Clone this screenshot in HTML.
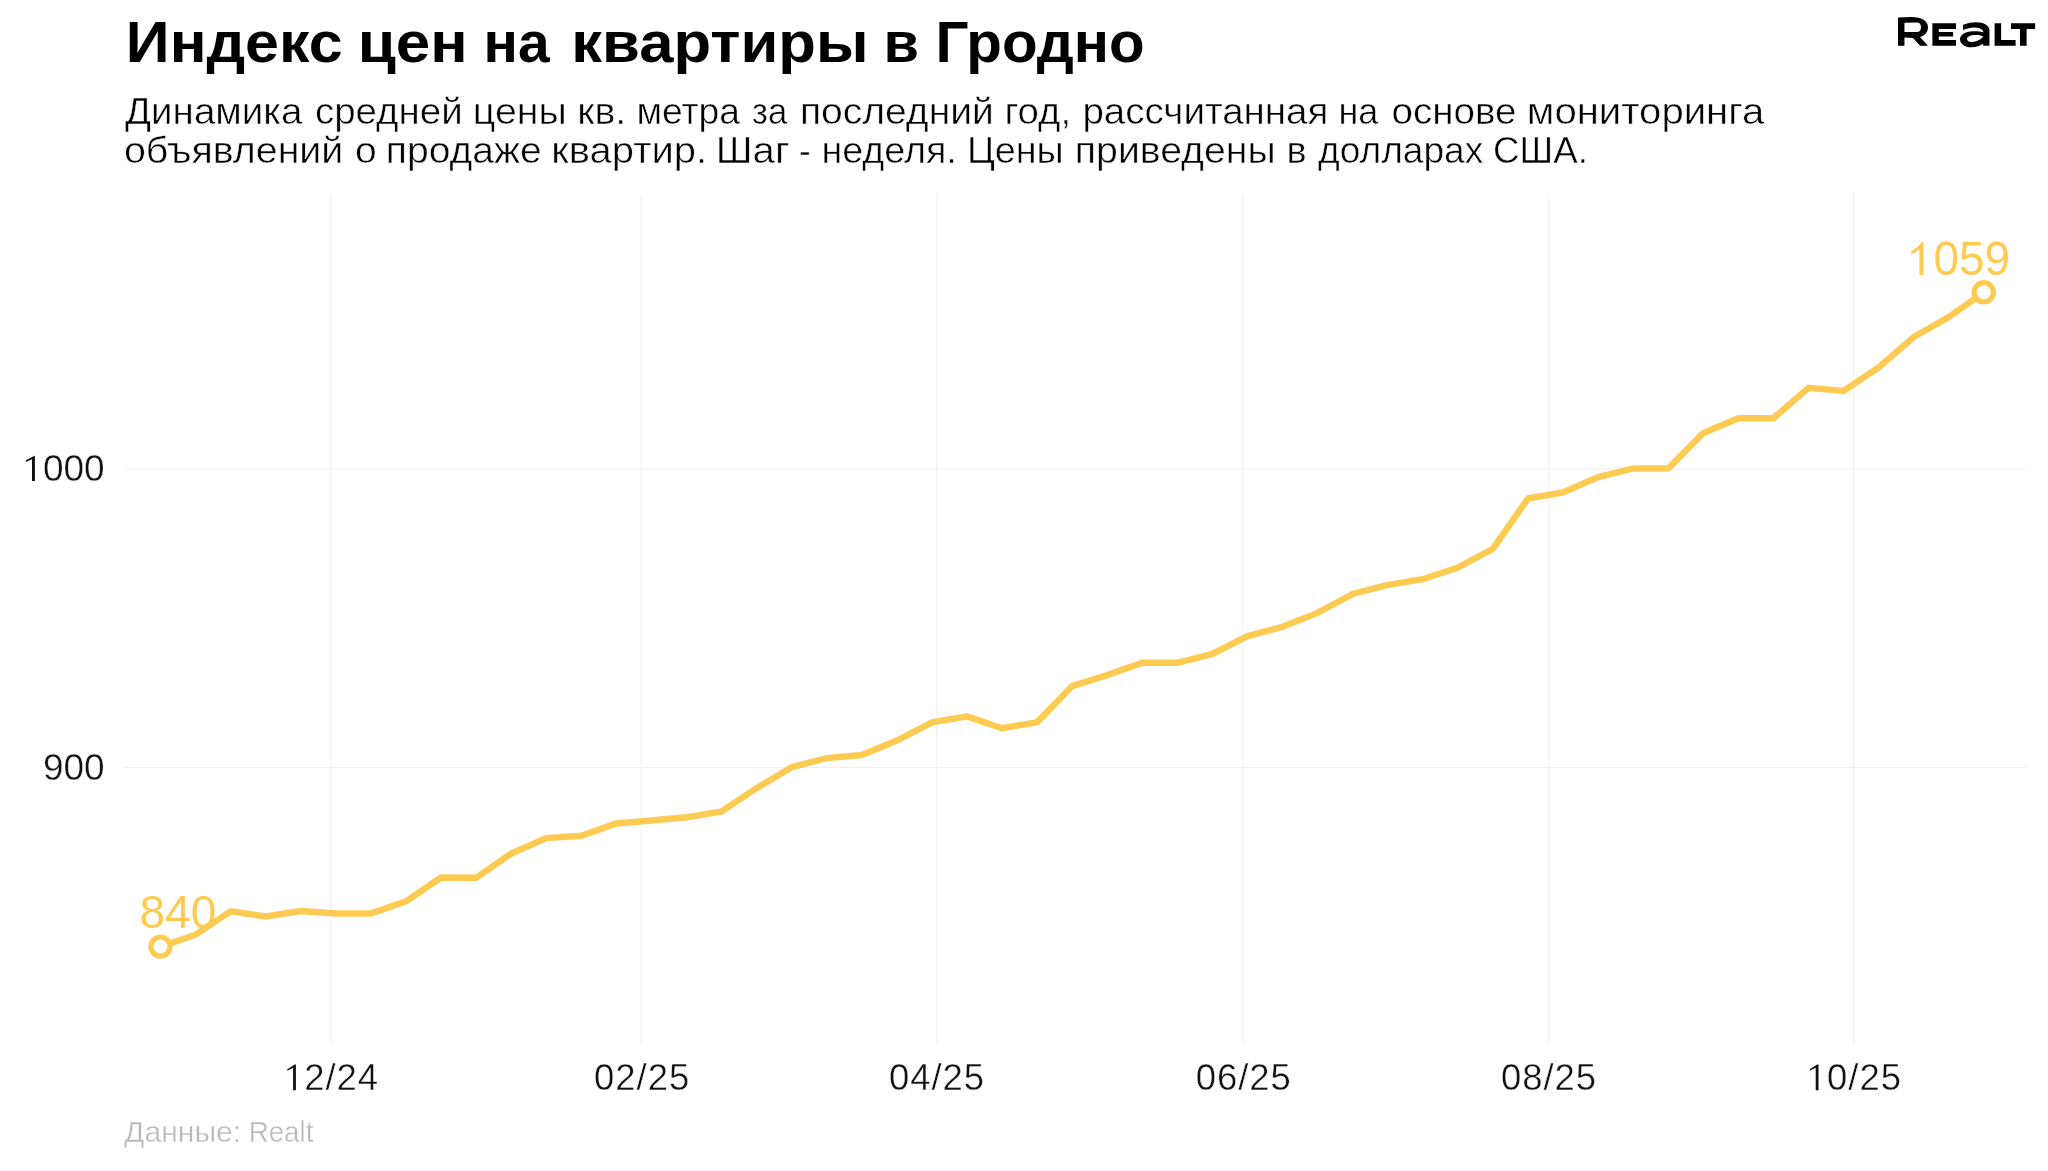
<!DOCTYPE html>
<html><head><meta charset="utf-8"><style>
html,body{margin:0;padding:0;background:#fff;width:2048px;height:1171px;overflow:hidden}
svg{position:absolute;left:0;top:0;display:block;will-change:transform}
text{font-family:"Liberation Sans",sans-serif}
</style></head><body>
<svg width="2048" height="1171" viewBox="0 0 2048 1171">
<rect width="2048" height="1171" fill="#fff"/>
<g stroke="#f0f0f0" stroke-width="1" fill="none"><line x1="331.0" y1="193.8" x2="331.0" y2="1044.7"/><line x1="641.0" y1="193.8" x2="641.0" y2="1044.7"/><line x1="936.8" y1="193.8" x2="936.8" y2="1044.7"/><line x1="1243.0" y1="193.8" x2="1243.0" y2="1044.7"/><line x1="1548.3" y1="193.8" x2="1548.3" y2="1044.7"/><line x1="1853.4" y1="193.8" x2="1853.4" y2="1044.7"/><line x1="124" y1="469" x2="2025.6" y2="469"/><line x1="124" y1="767.5" x2="2025.6" y2="767.5"/></g>
<g font-size="58" font-weight="bold" fill="#000"><text transform="matrix(1.0505,0,0,1,125.86,62)">Индекс</text><text transform="matrix(1.0675,0,0,1,357.73,62)">цен</text><text transform="matrix(0.9813,0,0,1,483.58,62)">на</text><text transform="matrix(1.0622,0,0,1,571.29,62)">квартиры</text><text transform="matrix(0.9937,0,0,1,883.52,62)">в</text><text transform="matrix(1.006,0,0,1,935.47,62)">Гродно</text></g><g font-size="36.5" fill="#000" stroke="#fff" stroke-width="0.5"><text transform="matrix(1.0556,0,0,1,125.02,124.3)">Динамика</text><text transform="matrix(1.0541,0,0,1,314.91,124.3)">средней</text><text transform="matrix(1.0771,0,0,1,472.85,124.3)">цены</text><text transform="matrix(1.0763,0,0,1,577.31,124.3)">кв.</text><text transform="matrix(1.02,0,0,1,636.46,124.3)">метра</text><text transform="matrix(0.9502,0,0,1,752.05,124.3)">за</text><text transform="matrix(1.0698,0,0,1,799.88,124.3)">последний</text><text transform="matrix(1.051,0,0,1,1004.39,124.3)">год,</text><text transform="matrix(1.0559,0,0,1,1082.40,124.3)">рассчитанная</text><text transform="matrix(0.9853,0,0,1,1338.52,124.3)">на</text><text transform="matrix(1.0569,0,0,1,1391.45,124.3)">основе</text><text transform="matrix(1.0986,0,0,1,1526.82,124.3)">мониторинга</text><text transform="matrix(1.0776,0,0,1,123.93,162.7)">объявлений</text><text transform="matrix(1.0679,0,0,1,354.88,162.7)">о</text><text transform="matrix(1.069,0,0,1,385.82,162.7)">продаже</text><text transform="matrix(1.0949,0,0,1,551.30,162.7)">квартир.</text><text transform="matrix(1.1001,0,0,1,715.79,162.7)">Шаг</text><text transform="matrix(0.9638,0,0,1,799.10,162.7)">-</text><text transform="matrix(1.0315,0,0,1,821.44,162.7)">неделя.</text><text transform="matrix(1.0337,0,0,1,966.91,162.7)">Цены</text><text transform="matrix(1.0744,0,0,1,1074.85,162.7)">приведены</text><text transform="matrix(1.0388,0,0,1,1286.39,162.7)">в</text><text transform="matrix(1.0172,0,0,1,1318.01,162.7)">долларах</text><text transform="matrix(1.0068,0,0,1,1492.98,162.7)">США.</text></g>
<g font-size="37" fill="#111" stroke="#fff" stroke-width="0.4" lengthAdjust="spacingAndGlyphs">
<text x="104.5" y="481" text-anchor="end" textLength="61.6">000</text>
<text x="104.5" y="780" text-anchor="end" textLength="61.6">900</text>
</g>
<g font-size="36.5" fill="#111" stroke="#fff" stroke-width="0.4" lengthAdjust="spacingAndGlyphs"><text x="304.3" y="1090.2" text-anchor="start" textLength="73.8">2/24</text><text x="641.7" y="1090.2" text-anchor="middle" textLength="95.3">02/25</text><text x="936.5" y="1090.2" text-anchor="middle" textLength="95">04/25</text><text x="1243.3" y="1090.2" text-anchor="middle" textLength="95">06/25</text><text x="1548.6" y="1090.2" text-anchor="middle" textLength="95">08/25</text><text x="1827" y="1090.2" text-anchor="start" textLength="74">0/25</text></g>
<g fill="#111"><path d="M34.90,455.80 V481.00 H32.00 V459.20 L25.90,462.10 V460.20 L34.40,455.80 Z"/><path d="M295.90,1064.50 V1090.20 H293.10 V1067.80 L287.30,1070.70 V1069.20 L294.60,1064.50 Z"/><path d="M1818.50,1064.50 V1090.20 H1815.70 V1067.80 L1809.80,1070.70 V1069.20 L1817.20,1064.50 Z"/></g>
<g font-size="29.5" fill="#b8b8b8" stroke="#fff" stroke-width="0.4"><text transform="matrix(1.0214,0,0,1,124.00,1141.8)">Данные:</text><text transform="matrix(0.9403,0,0,1,248.63,1141.8)">Realt</text></g>
<polyline points="160.5,946.6 195.6,934.7 230.6,911.3 265.7,916.4 300.8,911.0 335.8,913.5 370.9,913.5 405.9,901.3 441.0,877.5 476.1,877.8 511.1,853.6 546.2,838.1 581.3,835.8 616.3,823.5 651.4,820.5 686.5,817.3 721.5,811.4 756.6,788.2 791.6,767.2 826.7,758.1 861.8,755.0 896.8,740.5 931.9,722.3 967.0,716.4 1002.0,728.2 1037.1,722.3 1072.1,686.1 1107.2,675.1 1142.3,662.7 1177.3,662.8 1212.4,653.9 1247.5,636.1 1282.5,626.8 1317.6,612.9 1352.7,594.0 1387.7,584.8 1422.8,579.2 1457.8,567.6 1492.9,548.7 1528.0,498.5 1563.0,492.4 1598.1,477.1 1633.2,468.5 1668.2,468.5 1703.3,433.0 1738.4,418.2 1773.4,418.2 1808.5,387.9 1843.5,390.9 1878.6,367.5 1913.7,337.0 1948.7,317.1 1983.8,292.3" fill="none" stroke="#FECB52" stroke-width="6.4" stroke-linejoin="miter"/>
<circle cx="160.5" cy="946.6" r="9.6" fill="#fff" stroke="#FECB52" stroke-width="5.2"/>
<circle cx="1983.8" cy="292.3" r="9.6" fill="#fff" stroke="#FECB52" stroke-width="5.2"/>
<text transform="matrix(0.9787,0,0,1,139.53,928.4)" font-size="47" fill="#FECB52">840</text>
<text transform="matrix(0.9558,0,0,1,1933.54,274.7)" font-size="48" fill="#FECB52">059</text>
<path fill="#FECB52" d="M1923.4,242 L1923.4,274.9 L1919.46,274.9 L1919.46,249.3 C1917,251.5 1914,253.2 1911.4,254.4 L1911.4,251 C1915.5,248.6 1919.5,245.5 1921.8,242 Z"/>
<g fill="#000">
<path fill-rule="evenodd" d="M1898,17.6 L1911,17.0 C1922,17.0 1928,21 1928,27.3 C1928,32.5 1924.5,36 1920,37 L1928,45.7 L1920.1,45.7 L1913,37.9 L1904.45,37.6 L1904.45,45.7 L1898,45.7 Z M1904.45,22.7 L1917,22.5 C1919.5,22.5 1921,24.5 1921,27.3 C1921,30 1919.5,32.1 1917,32.1 L1904.45,31.9 Z"/>
<path d="M1932.4,23.3 H1956 V28.95 H1938.8 V31.9 H1953.1 V36.6 H1938.8 V40.1 H1956 V45.7 H1932.4 Z"/>
<path fill-rule="evenodd" d="M1984.5,32.6 C1980,31.3 1976,31 1972.8,31.2 C1965,31.6 1960,35 1960,39.3 C1960,44 1965,47.35 1971,47.35 C1976,47.35 1980.5,45.5 1984.5,43.2 Z M1967,39 C1967,36.5 1971,35 1976,35 C1979.5,35 1982,35.5 1983.4,36.6 C1981,39.5 1976.5,42 1971.6,42 C1969,42 1967,40.8 1967,39 Z"/>
<rect x="1983.2" y="30" width="6.25" height="15.7"/>
<path d="M1963.1,24.7 C1967.5,23 1972,22.2 1976,22.2 C1984,22.2 1989.45,25.5 1989.45,30.5 L1983.2,31.2 C1981.5,29 1978.5,27.6 1974.9,27.6 C1970.5,27.6 1966.5,28.6 1963.1,29.9 Z"/>
<path d="M1994.6,23.3 H2001.1 V39.9 H2015.6 V45.7 H1994.6 Z"/>
<path d="M2011,23.3 H2035.1 V28.9 H2026.6 V45.7 H2019.95 V28.9 H2011 Z"/>
</g>
</svg>
</body></html>
